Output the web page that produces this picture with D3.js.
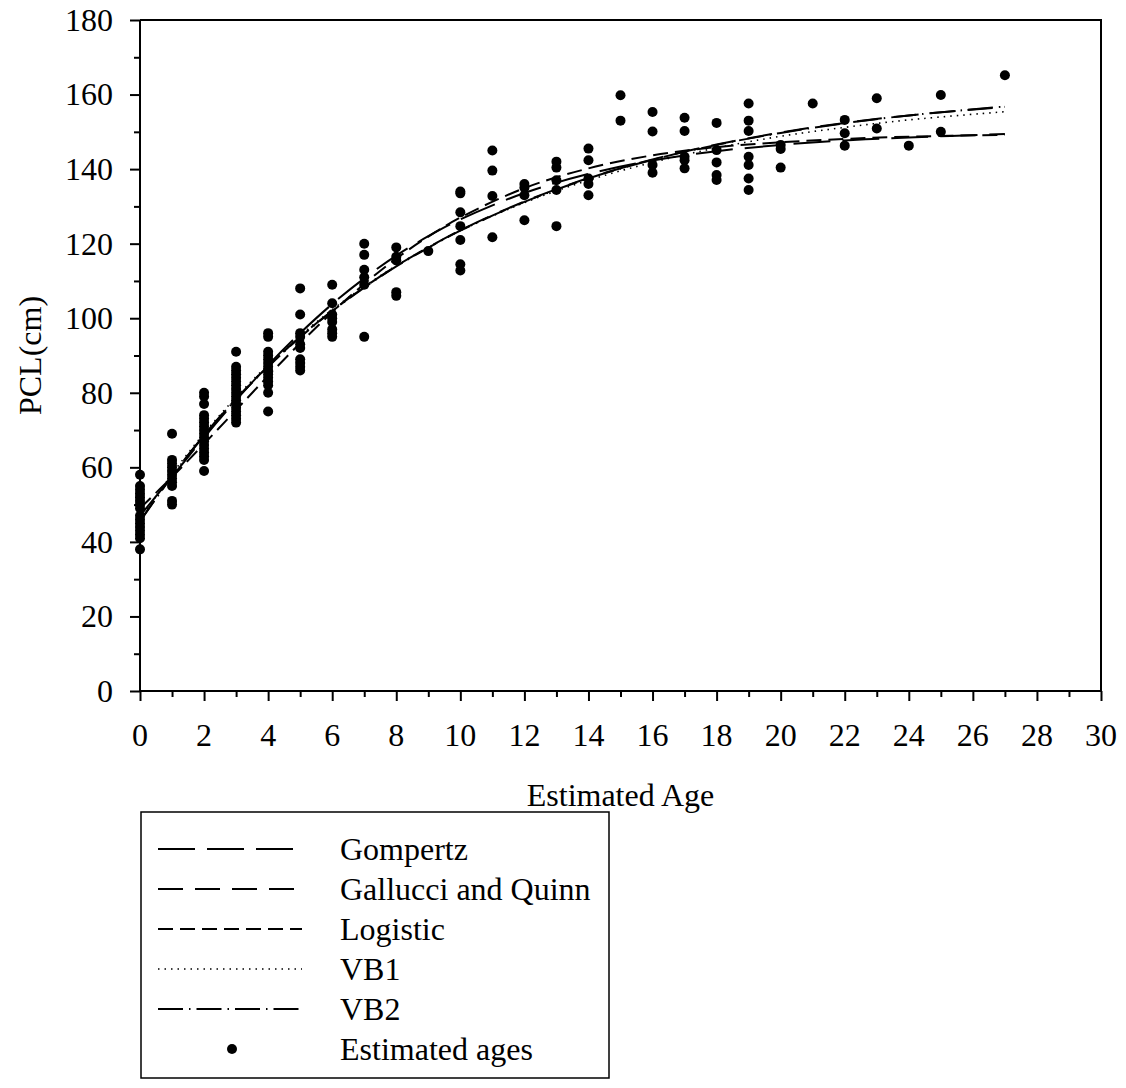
<!DOCTYPE html>
<html>
<head>
<meta charset="utf-8">
<script src="https://cdn.jsdelivr.net/npm/d3@7"></script>
<style>
  body { margin: 0; background: #fff; }
  svg text { font-family: "Liberation Serif", "Times New Roman", serif; fill: #000; }
</style>
</head>
<body>
<div id="chart"></div>
<script>
const observed = [
  [0, [58, 55, 54, 53, 52, 51, 50, 49, 47, 46, 45, 44, 43, 42, 41, 38]],
  [1, [69, 62, 61, 60, 59, 58, 57, 56, 55, 51, 50]],
  [2, [80, 79, 77, 74, 73, 72, 71, 70, 69, 68, 67, 66, 65, 64, 63, 62, 59]],
  [3, [91, 87, 86, 85, 84, 83, 82, 81, 80, 79, 78, 77, 76, 75, 74, 73, 72]],
  [4, [96, 95, 91, 90, 89, 88, 87, 86, 85, 84, 83, 82, 80, 75]],
  [5, [108, 101, 96, 95, 93, 92, 89, 88, 87, 86]],
  [6, [109, 104, 101, 100, 99, 97, 96, 95]],
  [7, [120, 117, 113, 111, 109, 95]],
  [8, [119, 116.5, 115.5, 107, 106]],
  [9, [118]],
  [10, [134, 133.5, 128.4, 124.7, 121, 114.5, 112.8]],
  [11, [145, 139.6, 132.8, 121.7]],
  [12, [136, 135, 133, 126.3]],
  [13, [142, 140.4, 137, 134.4, 124.7]],
  [14, [145.5, 142.4, 137.5, 136, 133]],
  [15, [159.8, 153]],
  [16, [155.3, 150.1, 141.1, 139]],
  [17, [153.8, 150.2, 143.3, 142.4, 140.2]],
  [18, [152.4, 145.1, 141.8, 138.4, 137.1]],
  [19, [157.6, 153, 150.2, 143.3, 141.1, 137.5, 134.4]],
  [20, [146.5, 145.4, 140.4]],
  [21, [157.6]],
  [22, [153.2, 149.6, 146.3]],
  [23, [159, 150.9]],
  [24, [146.3]],
  [25, [159.9, 150]],
  [27, [165.2]]
]

// fitted curves at these ages
const curveAges = [0, 1, 2, 3, 4, 5, 6, 7, 8, 9, 10, 12, 14, 16, 18, 20, 22, 24, 27]
const gompertz = [47.0, 57.5, 68.0, 78.0, 87.4, 96.0, 103.8, 110.7, 116.8, 122.0, 126.5, 133.6, 138.7, 142.3, 144.8, 146.5, 147.7, 148.5, 149.4]
const gallucci = [45.6, 57.7, 68.6, 78.4, 87.1, 95.0, 102.0, 108.3, 114.0, 119.0, 123.6, 131.3, 137.6, 142.6, 146.6, 149.8, 152.4, 154.4, 156.7]
const logistic = [49.0, 57.4, 66.3, 75.4, 84.5, 93.3, 101.6, 109.2, 116.0, 121.9, 127.0, 134.9, 140.2, 143.7, 145.9, 147.2, 148.1, 148.7, 149.2]
const vb1 = [46.0, 58.2, 69.1, 78.8, 87.5, 95.3, 102.3, 108.5, 114.1, 119.0, 123.5, 131.0, 137.0, 141.8, 145.7, 148.8, 151.2, 153.2, 155.4]
const vb2 = [45.5, 57.6, 68.5, 78.3, 87.0, 94.9, 101.9, 108.2, 113.9, 118.9, 123.5, 131.2, 137.5, 142.5, 146.5, 149.7, 152.3, 154.4, 156.8]

const xTicks = d3.range(0, 31, 2)
const yTicks = d3.range(0, 181, 20)

const series = [
  { name: 'Gompertz', values: gompertz, dash: '37,12', width: 2 },
  { name: 'Gallucci and Quinn', values: gallucci, dash: '25,12', width: 2 },
  { name: 'Logistic', values: logistic, dash: '15,7', width: 2 },
  { name: 'VB1', values: vb1, dash: '1.5,5', width: 1.6 },
  { name: 'VB2', values: vb2, dash: '25,6,1.5,6', width: 2 }
]

const W = 1126, H = 1088
const mLeft = 140, mRight = 1101, mTop = 20, mBottom = 691
const fs = 32

const svg = d3.select('#chart').append('svg')
  .attr('width', W)
  .attr('height', H)

const x = d3.scaleLinear().domain([0, 30]).range([mLeft, mRight])
const y = d3.scaleLinear().domain([0, 180]).range([mBottom, mTop])

// frame (top and right)
svg.append('path')
  .attr('d', `M${mLeft},${mTop}H${mRight}V${mBottom}`)
  .attr('fill', 'none')
  .attr('stroke', '#000')
  .attr('stroke-width', 2)

// x axis
const xAxis = svg.append('g')
  .attr('transform', `translate(0,${mBottom})`)
  .call(d3.axisBottom(x).tickValues(d3.range(0, 31, 1)).tickSize(6).tickFormat(''))
xAxis.selectAll('.tick line').attr('stroke-width', 2)
  .filter(d => d % 2 === 0).attr('y2', 10)
xAxis.select('.domain').attr('stroke-width', 2).attr('d', `M${mLeft},0H${mRight}`)

svg.append('g').selectAll('text')
  .data(xTicks)
  .join('text')
    .attr('x', d => x(d))
    .attr('y', 746)
    .attr('text-anchor', 'middle')
    .attr('font-size', fs)
    .text(d => d)

// y axis
const yAxis = svg.append('g')
  .attr('transform', `translate(${mLeft},0)`)
  .call(d3.axisLeft(y).tickValues(d3.range(0, 181, 10)).tickSize(6).tickFormat(''))
yAxis.selectAll('.tick line').attr('stroke-width', 2)
  .filter(d => d % 20 === 0).attr('x2', -10)
yAxis.select('.domain').attr('stroke-width', 2).attr('d', `M0,${mBottom}V${mTop}`)

svg.append('g').selectAll('text')
  .data(yTicks)
  .join('text')
    .attr('x', 113)
    .attr('y', d => y(d))
    .attr('dy', '0.34em')
    .attr('text-anchor', 'end')
    .attr('font-size', fs)
    .text(d => d)

// axis titles
svg.append('text')
  .attr('transform', `translate(30,${(mTop + mBottom) / 2}) rotate(-90)`)
  .attr('text-anchor', 'middle')
  .attr('dy', '0.35em')
  .attr('font-size', fs)
  .text('PCL(cm)')

svg.append('text')
  .attr('x', (mLeft + mRight) / 2)
  .attr('y', 806)
  .attr('text-anchor', 'middle')
  .attr('font-size', fs)
  .text('Estimated Age')

// points
const pts = observed.flatMap(([age, vals]) => vals.map(v => ({ age, v })))
svg.append('g').selectAll('circle')
  .data(pts)
  .join('circle')
    .attr('cx', d => x(d.age))
    .attr('cy', d => y(d.v))
    .attr('r', 5)
    .attr('fill', '#000')

// curves
const line = d3.line()
  .x((d, i) => x(curveAges[i]))
  .y(d => y(d))
  .curve(d3.curveCatmullRom)

svg.append('g').selectAll('path')
  .data(series)
  .join('path')
    .attr('d', d => line(d.values))
    .attr('fill', 'none')
    .attr('stroke', '#000')
    .attr('stroke-width', d => d.width)
    .attr('stroke-dasharray', d => d.dash)

// legend
const lg = svg.append('g')
lg.append('rect')
  .attr('x', 141).attr('y', 812)
  .attr('width', 468).attr('height', 266)
  .attr('fill', 'none')
  .attr('stroke', '#000')
  .attr('stroke-width', 1.5)

const rowY = i => 849 + i * 40
series.forEach((s, i) => {
  lg.append('line')
    .attr('x1', 158).attr('x2', 302)
    .attr('y1', rowY(i)).attr('y2', rowY(i))
    .attr('stroke', '#000')
    .attr('stroke-width', s.width)
    .attr('stroke-dasharray', s.dash)
  lg.append('text')
    .attr('x', 340).attr('y', rowY(i))
    .attr('dy', '0.33em')
    .attr('font-size', fs)
    .text(s.name)
})
lg.append('circle')
  .attr('cx', 232).attr('cy', rowY(5))
  .attr('r', 5)
  .attr('fill', '#000')
lg.append('text')
  .attr('x', 340).attr('y', rowY(5))
  .attr('dy', '0.33em')
  .attr('font-size', fs)
  .text('Estimated ages')
</script>
</body>
</html>
